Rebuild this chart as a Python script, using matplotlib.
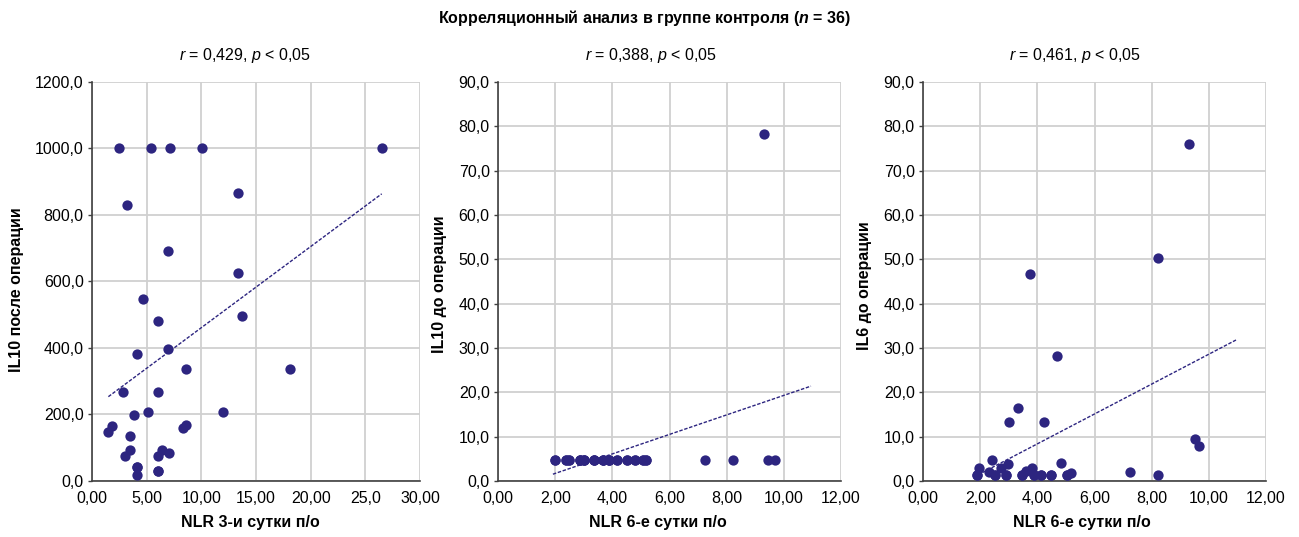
import numpy as np
import matplotlib
matplotlib.use('Agg')
import matplotlib.pyplot as plt

plt.rcParams['font.family'] = ['Liberation Sans', 'DejaVu Sans']
plt.rcParams['mathtext.fontset'] = 'custom'
plt.rcParams['mathtext.rm'] = 'Liberation Sans'
plt.rcParams['mathtext.it'] = 'Liberation Sans:italic'
plt.rcParams['mathtext.bf'] = 'Liberation Sans:bold'
plt.rcParams['mathtext.bfit'] = 'Liberation Sans:italic:bold'

# panel 1: NLR 3-и сутки vs IL10 после операции
nlr3 = [2.48, 5.36, 7.13, 10.07, 26.5, 13.38, 3.21, 6.92, 13.38, 4.71, 6.03, 13.68,
        4.13, 6.98, 8.6, 18.1, 2.82, 6.03, 3.83, 5.14, 11.97, 1.81, 1.5, 8.33, 8.6,
        3.49, 3.49, 3.06, 6.37, 6.06, 7.04, 4.13, 4.13, 6.03, 6.03, 4.13]
il10_post = [1000, 1000, 1000, 1000, 1000, 866, 829, 692, 627, 548, 482, 495,
             382, 397, 337, 337, 267, 267, 199, 206, 206, 166, 147, 158, 169,
             134, 94, 76, 94, 75, 83, 41, 19, 29, 29, 41]

# panel 2: NLR 6-е сутки vs IL10 до операции
nlr6_a = [2.0, 2.39, 2.5, 2.86, 3.0, 3.37, 3.67, 3.9, 4.17, 4.5, 4.78, 5.07, 5.17,
          7.24, 8.23, 9.43, 9.68, 9.3, 2.0, 2.39, 2.5, 2.86, 3.0, 3.37, 3.67, 3.9,
          4.17, 4.5, 4.78, 5.07, 5.17, 2.86, 3.0, 3.37, 3.67, 3.9]
il10_pre = [4.8] * 17 + [78.3] + [4.8] * 18

# panel 3: NLR 6-е сутки vs IL6 до операции
nlr6_b = [9.3, 8.22, 3.74, 4.7, 3.33, 3.02, 4.22, 9.5, 9.67, 2.41, 4.84, 2.97,
          2.74, 1.95, 3.82, 2.29, 3.6, 7.23, 5.17, 1.88, 2.5, 2.9, 3.47, 3.88,
          4.14, 4.49, 5.03, 8.23, 1.88, 2.5, 2.9, 3.47, 3.88, 4.14, 4.49, 5.03]
il6_pre = [76.1, 50.2, 46.8, 28.1, 16.5, 13.2, 13.4, 9.5, 7.9, 4.7, 4.0, 3.9,
           2.9, 2.9, 3.0, 2.1, 2.3, 2.0, 1.9, 1.3, 1.3, 1.3, 1.3, 1.3,
           1.3, 1.3, 1.3, 1.3, 1.3, 1.3, 1.3, 1.3, 1.3, 1.3, 1.3, 1.3]

# linear trendlines (slope, intercept)
trends = [(24.4, 217.0), (2.2, -2.69), (3.37, -5.1)]

titles = [r'$\it{r}$ = 0,429, $\it{p}$ < 0,05',
          r'$\it{r}$ = 0,388, $\it{p}$ < 0,05',
          r'$\it{r}$ = 0,461, $\it{p}$ < 0,05']
xlabels = ['NLR 3-и сутки п/о', 'NLR 6-е сутки п/о', 'NLR 6-е сутки п/о']
ylabels = ['IL10 после операции', 'IL10 до операции', 'IL6 до операции']

xticks = [[0, 5, 10, 15, 20, 25, 30], [0, 2, 4, 6, 8, 10, 12], [0, 2, 4, 6, 8, 10, 12]]
xticklabels = [['0,00', '5,00', '10,00', '15,00', '20,00', '25,0', '30,00'],
               ['0,00', '2,00', '4,00', '6,00', '8,00', '10,00', '12,00'],
               ['0,00', '2,00', '4,00', '6,00', '8,00', '10,00', '12,00']]
yticks = [list(range(0, 1201, 200)), list(range(0, 91, 10)), list(range(0, 91, 10))]

xs = [nlr3, nlr6_a, nlr6_b]
ys = [il10_post, il10_pre, il6_pre]

color = '#2d2580'
fs = 11.5
fig = plt.figure(figsize=(12.99, 5.37), dpi=100)
fig.text(0.496, 0.967, r'Корреляционный анализ в группе контроля ($\mathbfit{n}$ = 36)',
         ha='center', va='center', fontsize=fs, fontweight='bold')

lefts = [0.0708, 0.3834, 0.7106]
widths = [0.2525, 0.264, 0.264]
title_x = [0.466, 0.446, 0.443]
xlab_x = [0.482, 0.466, 0.464]
ylab_x = [-0.207, -0.149, -0.149]
ylab_y = [0.479, 0.494, 0.49]
for i in range(3):
    ax = fig.add_axes([lefts[i], 0.1043, widths[i], 0.743])
    ax.scatter(xs[i], ys[i], s=55, color=color, zorder=3, linewidths=0)
    k, b = trends[i]
    tx = np.array([min(xs[i]), max(xs[i])])
    if i > 0:
        tx = np.array([1.92, 10.95])
    ax.plot(tx, k * tx + b, '--', color=color, lw=1, dashes=(2.5, 1.2), zorder=2)
    ax.set_xlim(xticks[i][0], xticks[i][-1])
    ax.set_ylim(yticks[i][0], yticks[i][-1])
    ax.set_xticks(xticks[i])
    ax.set_xticklabels(xticklabels[i])
    ax.set_yticks(yticks[i])
    ax.set_yticklabels([('%.1f' % v).replace('.', ',') for v in yticks[i]])
    ax.grid(True, color='#d0d0d0', lw=1.3, zorder=0)
    ax.set_axisbelow(True)
    for s in ['top', 'right']:
        ax.spines[s].set_visible(False)
    for s in ['left', 'bottom']:
        ax.spines[s].set_color('#404040')
        ax.spines[s].set_linewidth(1.2)
    ax.tick_params(axis='both', labelsize=fs, color='#404040', length=3, width=1, pad=3)
    ax.tick_params(axis='x', length=0, pad=7.5)
    ax.set_title(titles[i], fontsize=fs, pad=16, x=title_x[i])
    ax.set_xlabel(xlabels[i], fontsize=fs, fontweight='bold')
    ax.xaxis.set_label_coords(xlab_x[i], -0.085)
    ax.set_ylabel(ylabels[i], fontsize=fs, fontweight='bold')
    ax.yaxis.set_label_coords(ylab_x[i], ylab_y[i])

fig.savefig('out.png', dpi=100)
